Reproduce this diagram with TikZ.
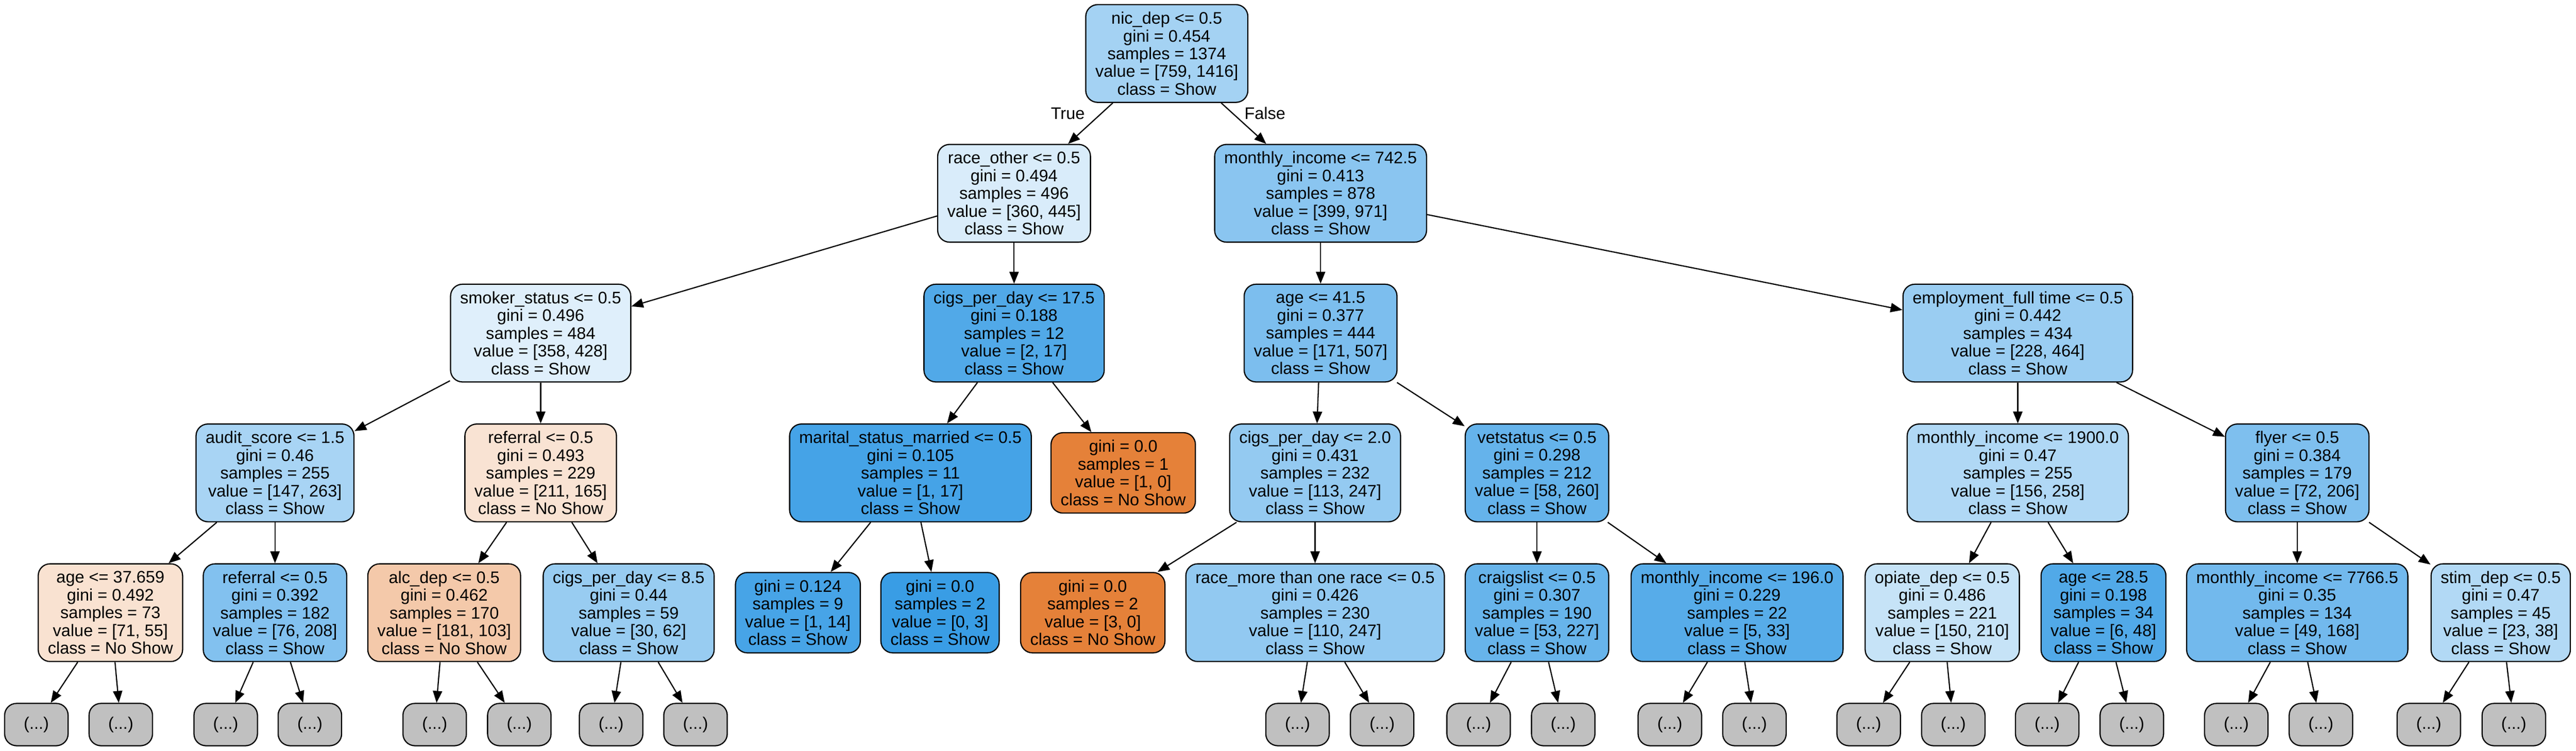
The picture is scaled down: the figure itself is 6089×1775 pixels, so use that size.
\documentclass[tikz,border=0pt]{standalone}
\usepackage{fontspec}
\setmainfont{Liberation Sans}
\usetikzlibrary{arrows.meta}
\definecolor{showc}{RGB}{57,157,229}
\definecolor{nsc}{RGB}{229,129,57}
\definecolor{gc}{RGB}{192,192,192}
\newcommand{\treefs}{\fontsize{9.9pt}{10.5pt}\selectfont}
\tikzset{
  tn/.style={draw, rounded corners=7pt, line width=0.7pt, align=center,
    inner xsep=5.65pt, inner ysep=0pt, minimum height=57.75pt, font=\treefs},
  leaffour/.style={tn, minimum height=47.5pt},
  morebox/.style={draw, rounded corners=7pt, line width=0.7pt, fill=gc,
    minimum width=37.5pt, minimum height=25pt, inner sep=0pt, font=\treefs},
  treeedge/.style={-{Triangle[length=7pt,width=5.5pt]}, line width=0.7pt},
  elabel/.style={font=\treefs, inner sep=0pt}
}
\begin{document}
\begin{tikzpicture}[x=0.25pt,y=-0.25pt]
\useasboundingbox (0,0) rectangle (6089,1775);
\fill[white] (0,0) rectangle (6089,1775);
% level 0
\node[tn, fill=showc!46!white] (root) at (2758,126.5) {nic\_dep <= 0.5\\gini = 0.454\\samples = 1374\\value = [759, 1416]\\class = Show};
% level 1
\node[tn, fill=showc!19!white] (raceo) at (2397,457) {race\_other <= 0.5\\gini = 0.494\\samples = 496\\value = [360, 445]\\class = Show};
\node[tn, fill=showc!59!white] (mia) at (3121.5,457) {monthly\_income <= 742.5\\gini = 0.413\\samples = 878\\value = [399, 971]\\class = Show};
% level 2
\node[tn, fill=showc!16!white] (smoker) at (1278,787.5) {smoker\_status <= 0.5\\gini = 0.496\\samples = 484\\value = [358, 428]\\class = Show};
\node[tn, fill=showc!88!white] (cigsa) at (2397,787.5) {cigs\_per\_day <= 17.5\\gini = 0.188\\samples = 12\\value = [2, 17]\\class = Show};
\node[tn, fill=showc!66!white] (agea) at (3121.5,787.5) {age <= 41.5\\gini = 0.377\\samples = 444\\value = [171, 507]\\class = Show};
\node[tn, fill=showc!51!white] (empl) at (4769.5,787.5) {employment\_full time <= 0.5\\gini = 0.442\\samples = 434\\value = [228, 464]\\class = Show};
% level 3
\node[tn, fill=showc!44!white] (audit) at (650,1118) {audit\_score <= 1.5\\gini = 0.46\\samples = 255\\value = [147, 263]\\class = Show};
\node[tn, fill=nsc!22!white] (refns) at (1278,1118) {referral <= 0.5\\gini = 0.493\\samples = 229\\value = [211, 165]\\class = No Show};
\node[tn, fill=showc!94!white] (marital) at (2152,1118) {marital\_status\_married <= 0.5\\gini = 0.105\\samples = 11\\value = [1, 17]\\class = Show};
\node[leaffour, fill=nsc] (leafa) at (2655,1118) {gini = 0.0\\samples = 1\\value = [1, 0]\\class = No Show};
\node[tn, fill=showc!54!white] (cigsb) at (3108.5,1118) {cigs\_per\_day <= 2.0\\gini = 0.431\\samples = 232\\value = [113, 247]\\class = Show};
\node[tn, fill=showc!78!white] (vet) at (3633,1118) {vetstatus <= 0.5\\gini = 0.298\\samples = 212\\value = [58, 260]\\class = Show};
\node[tn, fill=showc!40!white] (mib) at (4769.5,1118) {monthly\_income <= 1900.0\\gini = 0.47\\samples = 255\\value = [156, 258]\\class = Show};
\node[tn, fill=showc!65!white] (flyer) at (5430,1118) {flyer <= 0.5\\gini = 0.384\\samples = 179\\value = [72, 206]\\class = Show};
% level 4
\node[tn, fill=nsc!23!white] (ageb) at (261,1448.5) {age <= 37.659\\gini = 0.492\\samples = 73\\value = [71, 55]\\class = No Show};
\node[tn, fill=showc!63!white] (refb) at (650,1448.5) {referral <= 0.5\\gini = 0.392\\samples = 182\\value = [76, 208]\\class = Show};
\node[tn, fill=nsc!43!white] (alc) at (1050,1448.5) {alc\_dep <= 0.5\\gini = 0.462\\samples = 170\\value = [181, 103]\\class = No Show};
\node[tn, fill=showc!52!white] (cigsc) at (1486,1448.5) {cigs\_per\_day <= 8.5\\gini = 0.44\\samples = 59\\value = [30, 62]\\class = Show};
\node[leaffour, fill=showc!93!white] (lfb) at (1886,1448.5) {gini = 0.124\\samples = 9\\value = [1, 14]\\class = Show};
\node[leaffour, fill=showc] (lfc) at (2222,1448.5) {gini = 0.0\\samples = 2\\value = [0, 3]\\class = Show};
\node[leaffour, fill=nsc] (lfd) at (2583,1448.5) {gini = 0.0\\samples = 2\\value = [3, 0]\\class = No Show};
\node[tn, fill=showc!55!white] (racem) at (3108.5,1448.5) {race\_more than one race <= 0.5\\gini = 0.426\\samples = 230\\value = [110, 247]\\class = Show};
\node[tn, fill=showc!77!white] (craig) at (3633,1448.5) {craigslist <= 0.5\\gini = 0.307\\samples = 190\\value = [53, 227]\\class = Show};
\node[tn, fill=showc!85!white] (mic) at (4106,1448.5) {monthly\_income <= 196.0\\gini = 0.229\\samples = 22\\value = [5, 33]\\class = Show};
\node[tn, fill=showc!29!white] (opiate) at (4591,1448.5) {opiate\_dep <= 0.5\\gini = 0.486\\samples = 221\\value = [150, 210]\\class = Show};
\node[tn, fill=showc!88!white] (agec) at (4972,1448.5) {age <= 28.5\\gini = 0.198\\samples = 34\\value = [6, 48]\\class = Show};
\node[tn, fill=showc!71!white] (mid) at (5430,1448.5) {monthly\_income <= 7766.5\\gini = 0.35\\samples = 134\\value = [49, 168]\\class = Show};
\node[tn, fill=showc!39!white] (stim) at (5911,1448.5) {stim\_dep <= 0.5\\gini = 0.47\\samples = 45\\value = [23, 38]\\class = Show};
% level 5 placeholders
\foreach \nm/\xx in {ma/86, mb/285.5, mc/533.5, md/732.5, me/1027.5, mf/1227.5, mg/1444.5, mh/1644,
  mi/3067, mj/3267, mk/3495, ml/3695, mm/3947, mn/4147, mo/4417, mp/4617,
  mq/4839, mr/5039, ms/5286, mt/5486, mu/5741, mv/5942}
  \node[morebox] (\nm) at (\xx,1713) {(...)};
% edge labels
\node[elabel] (tlab) at (2524,268) {True};
\node[elabel] (flab) at (2990,268) {False};
% edges
\foreach \pa/\ch in {root/raceo, root/mia, raceo/smoker, raceo/cigsa, mia/agea, mia/empl,
  smoker/audit, smoker/refns, cigsa/marital, cigsa/leafa, agea/cigsb, agea/vet, empl/mib, empl/flyer,
  audit/ageb, audit/refb, refns/alc, refns/cigsc, marital/lfb, marital/lfc, cigsb/lfd, cigsb/racem,
  vet/craig, vet/mic, mib/opiate, mib/agec, flyer/mid, flyer/stim,
  ageb/ma, ageb/mb, refb/mc, refb/md, alc/me, alc/mf, cigsc/mg, cigsc/mh,
  racem/mi, racem/mj, craig/mk, craig/ml, mic/mm, mic/mn, opiate/mo, opiate/mp,
  agec/mq, agec/mr, mid/ms, mid/mt, stim/mu, stim/mv}
  \draw[treeedge] (\pa) -- (\ch);
\end{tikzpicture}
\end{document}
